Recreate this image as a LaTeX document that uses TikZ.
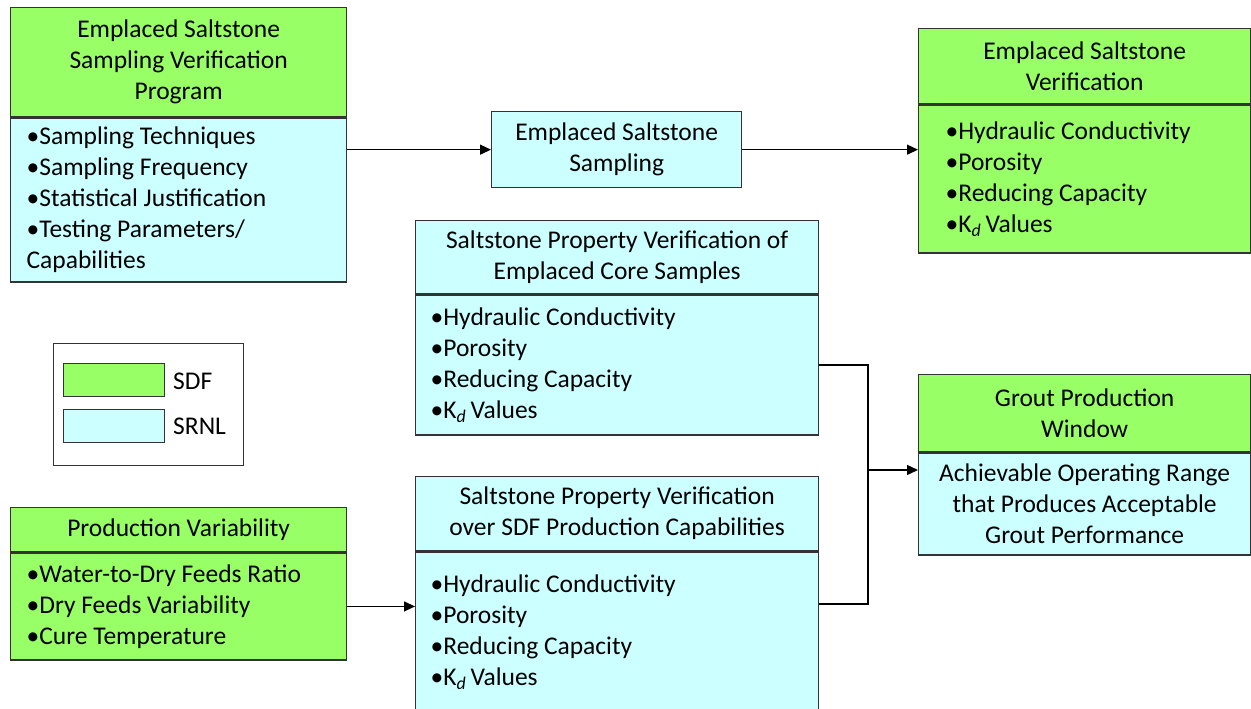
\documentclass[tikz,border=0pt]{standalone}
\usepackage{fontspec}
\setmainfont{Carlito}
\usetikzlibrary{arrows.meta,calc}
\definecolor{sdf}{HTML}{99FF66}
\definecolor{srnl}{HTML}{CCFFFF}
\definecolor{edge}{HTML}{333333}
\newcommand{\Kd}{K\textsubscript{\textit{d}}\,Values}
\begin{document}
\begin{tikzpicture}[x=1pt,y=-1pt,
  box/.style={draw=edge, line width=1.3pt, rectangle, inner ysep=0pt, anchor=north west,
    font=\fontsize{25.5}{31}\selectfont},
  hdr/.style={box, fill=sdf, align=center, inner xsep=0pt},
  cbody/.style={box, fill=srnl, align=center, inner xsep=0pt},
  lbody/.style={box, align=flush left},
  conn/.style={draw=black, line width=1.3pt},
  arr/.style={conn, -{Triangle[length=11pt,width=10pt]}},
  lbl/.style={anchor=west, inner sep=0pt, font=\fontsize{25.5}{31}\selectfont}
]
\useasboundingbox (0,0) rectangle (1251,709);

% Box A
\node[hdr, minimum width=336pt, minimum height=109pt] (Ah) at (10,7)
  {Emplaced Saltstone\\Sampling Verification\\Program};
\node[lbody, fill=srnl, minimum height=164pt, inner xsep=16pt, text width=304pt] (Ab) at (Ah.south west)
  {•Sampling Techniques\\•Sampling Frequency\\•Statistical Justification\\•Testing Parameters/\\Capabilities};

% Box B
\node[cbody, minimum width=250pt, minimum height=76pt] (B) at (491,111)
  {Emplaced Saltstone\\Sampling};

% Box C
\node[hdr, minimum width=332pt, minimum height=75pt] (Ch) at (918,28)
  {Emplaced Saltstone\\Verification};
\node[lbody, fill=sdf, minimum height=148pt, inner xsep=27pt, text width=278pt] (Cb) at (Ch.south west)
  {•Hydraulic Conductivity\\•Porosity\\•Reducing Capacity\\•\Kd};

% Box D
\node[cbody, minimum width=403pt, minimum height=73pt] (Dh) at (415,220)
  {Saltstone Property Verification of\\Emplaced Core Samples};
\node[lbody, fill=srnl, minimum height=140pt, inner xsep=15pt, text width=373pt] (Db) at (Dh.south west)
  {•Hydraulic Conductivity\\•Porosity\\•Reducing Capacity\\•\Kd};

% Box E
\node[cbody, minimum width=403pt, minimum height=74pt] (Eh) at (415,476)
  {Saltstone Property Verification\\over SDF Production Capabilities};
\node[lbody, fill=srnl, minimum height=160pt, inner xsep=15pt, text width=373pt] (Eb) at (Eh.south west)
  {•Hydraulic Conductivity\\•Porosity\\•Reducing Capacity\\•\Kd};

% Box F
\node[hdr, minimum width=332pt, minimum height=77pt] (Fh) at (918,374)
  {Grout Production\\Window};
\node[cbody, minimum width=332pt, minimum height=102pt] (Fb) at (Fh.south west)
  {Achievable Operating Range\\that Produces Acceptable\\Grout Performance};

% Box G
\node[hdr, minimum width=336pt, minimum height=44pt] (Gh) at (10,507)
  {Production Variability};
\node[lbody, fill=sdf, minimum height=107pt, inner xsep=16pt, text width=304pt] (Gb) at (Gh.south west)
  {•Water-to-Dry Feeds Ratio\\•Dry Feeds Variability\\•Cure Temperature};

% Legend
\node[draw=edge, line width=1pt, rectangle, anchor=north west, minimum width=190pt, minimum height=122pt, inner sep=0pt] (L) at (53,343) {};
\node[draw=edge, line width=1pt, fill=sdf, rectangle, anchor=north west, minimum width=101pt, minimum height=33pt, inner sep=0pt] (Ls) at (63,363) {};
\node[draw=edge, line width=1pt, fill=srnl, rectangle, anchor=north west, minimum width=101pt, minimum height=33pt, inner sep=0pt] (Lr) at (63,409) {};
\node[lbl] (Lst) at (173,381) {SDF};
\node[lbl] (Lrt) at (173,426) {SRNL};

% Connectors
\draw[arr] (Ab.east |- B.west) -- (B.west);
\draw[arr] (B.east) -- (B.east -| Cb.west);
\coordinate (j) at (868,470);
\coordinate (eo) at (Eb.east |- 0,604);
\draw[conn] (Db.east) -| (j);
\draw[conn] (eo) -| (j);
\draw[arr] (j) -- (j -| Fb.west);
\draw[arr] (Gb.east) -- (Gb.east -| Eb.west);
\end{tikzpicture}
\end{document}
